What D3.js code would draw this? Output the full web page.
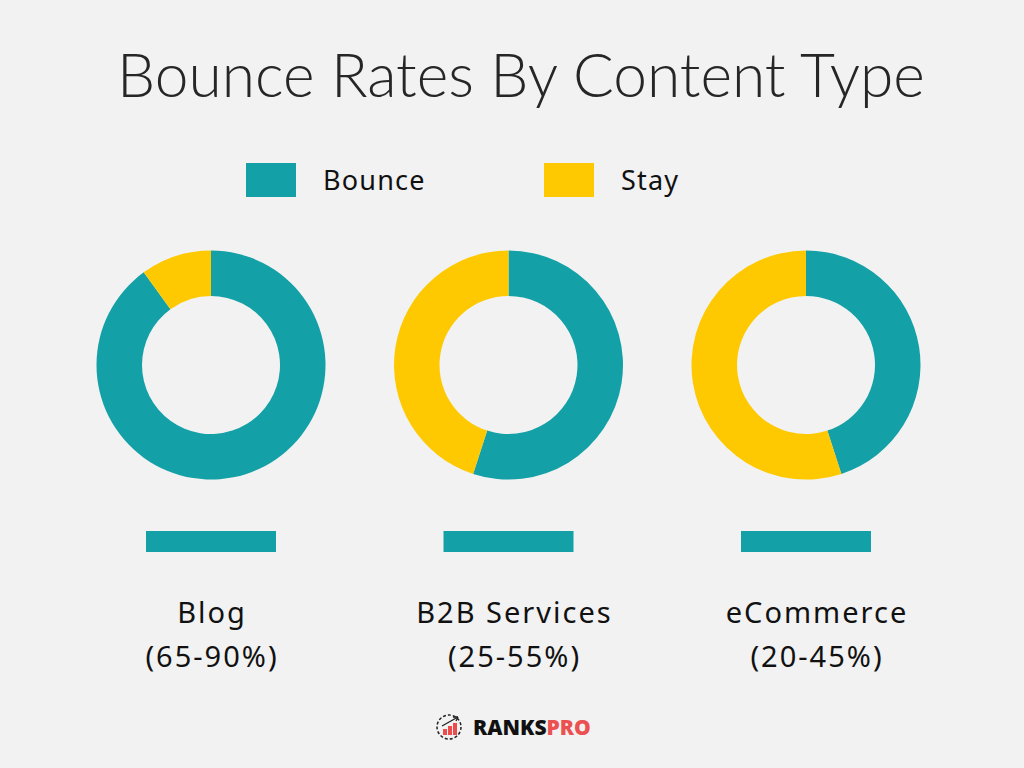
<!DOCTYPE html>
<html><head><meta charset="utf-8">
<script src="https://cdn.jsdelivr.net/npm/d3@7"></script>
<style>html,body{margin:0;padding:0;background:#f1f2f1;}</style>
</head><body>
<svg id="chart" width="1024" height="768"></svg>
<script>
const title = "Bounce Rates By Content Type";
const categories = ["Blog", "B2B Services", "eCommerce"];
const ranges = ["(65-90%)", "(25-55%)", "(20-45%)"];
const bounceValues = [90, 55, 45];
const stayValues = [10, 45, 55];
const seriesNames = ["Bounce", "Stay"];
const colors = ["#13a0a6", "#fec900"];

const W = 1024, H = 768;
const svg = d3.select("#chart");
svg.append("rect").attr("width", W).attr("height", H).attr("fill", "#f1f2f1");

// title
const t = svg.append("text").attr("x", 521).attr("y", 97)
  .attr("text-anchor", "middle")
  .attr("font-family", "Lato, sans-serif").attr("font-weight", 300)
  .attr("font-size", 56).attr("fill", "#262626").text(title);
const tw = t.node().getComputedTextLength();
t.attr("font-size", 56 * 808 / tw);

// legend
const legend = svg.append("g");
const legX = d3.scalePoint().domain(seriesNames).range([246, 544]);
seriesNames.forEach((s, i) => {
  legend.append("rect").attr("x", legX(s)).attr("y", 163).attr("width", 50).attr("height", 34).attr("fill", colors[i]);
  legend.append("text").attr("x", legX(s) + 77).attr("y", 190)
    .attr("font-family", "'Noto Sans', sans-serif").attr("font-size", 27)
    .attr("letter-spacing", 1.2).attr("fill", "#111").text(s);
});

// donuts
const x = d3.scalePoint().domain(categories).range([211, 806]);
const xLabel = d3.scalePoint().domain(categories).range([212, 817]);
const pie = d3.pie().sort(null).value(d => d.v);
const arc = d3.arc().innerRadius(69).outerRadius(114.5);
const color = d3.scaleOrdinal().domain(seriesNames).range(colors);

categories.forEach((c, i) => {
  const g = svg.append("g").attr("transform", `translate(${x(c)},365)`);
  const data = [{k: "Bounce", v: bounceValues[i]}, {k: "Stay", v: stayValues[i]}];
  g.selectAll("path").data(pie(data)).join("path")
    .attr("d", arc).attr("fill", d => color(d.data.k));
  svg.append("rect").attr("x", x(c) - 65).attr("y", 531).attr("width", 130).attr("height", 21)
    .attr("fill", colors[0]);
  svg.append("text").attr("x", xLabel(c)).attr("y", 623).attr("text-anchor", "middle")
    .attr("font-family", "'Noto Sans', sans-serif").attr("font-size", 29)
    .attr("letter-spacing", 2).attr("fill", "#111").text(c);
  svg.append("text").attr("x", xLabel(c)).attr("y", 667).attr("text-anchor", "middle")
    .attr("font-family", "'Noto Sans', sans-serif").attr("font-size", 29)
    .attr("letter-spacing", 2).attr("fill", "#111").text(ranges[i]);
});

// logo
const logo = svg.append("g").attr("transform", "translate(449,727)");
logo.append("circle").attr("r", 12).attr("fill", "none").attr("stroke", "#222")
  .attr("stroke-width", 1.5).attr("stroke-dasharray", "3,2");
[[-6, 6], [-1, 9], [4, 12]].forEach(([bx, bh]) => {
  logo.append("rect").attr("x", bx).attr("y", 8 - bh).attr("width", 4).attr("height", bh).attr("fill", "#ec4c4c");
});
logo.append("line").attr("x1", -7).attr("y1", -1).attr("x2", 9).attr("y2", -10)
  .attr("stroke", "#222").attr("stroke-width", 1.3);
logo.append("path").attr("d", "M9,-10 L4,-10 M9,-10 L7,-6").attr("stroke", "#222").attr("stroke-width", 1.3).attr("fill", "none");
const lt = svg.append("text").attr("x", 473).attr("y", 735)
  .attr("font-family", "'Open Sans', sans-serif").attr("font-weight", 800).attr("font-size", 21);
lt.append("tspan").attr("fill", "#111").text("RANKS");
lt.append("tspan").attr("fill", "#ec5050").text("PRO");
</script>
</body></html>
